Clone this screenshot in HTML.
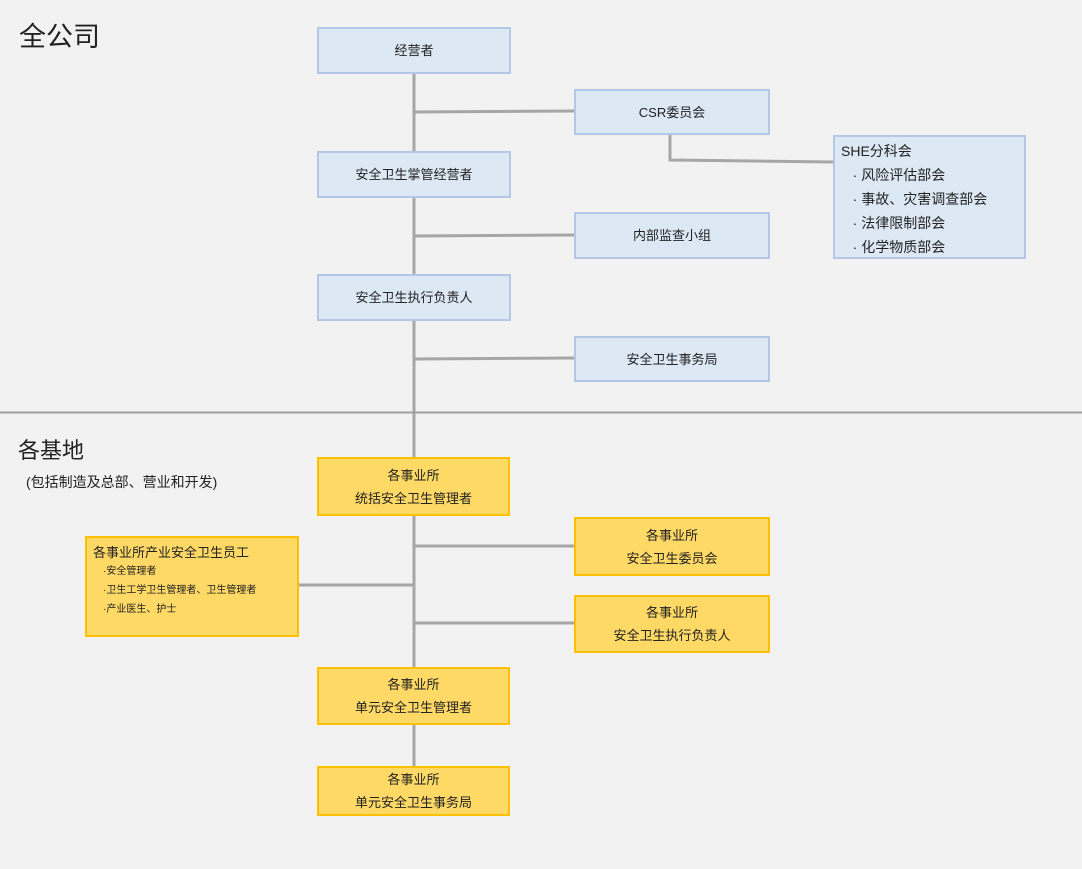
<!DOCTYPE html>
<html><head><meta charset="utf-8"><style>
body{margin:0;width:1082px;height:869px;background:#f2f2f2;position:relative;overflow:hidden;font-family:"Liberation Sans","Noto Sans CJK SC",sans-serif;color:#222}
.b{position:absolute;box-sizing:border-box;background:#dde8f5;border:2px solid #b4c7e7;display:flex;flex-direction:column;align-items:center;justify-content:center;font-size:13px;line-height:23px;text-align:center}
.y{background:#ffd966;border-color:#ffc000}
.t{position:absolute;white-space:nowrap}
svg{position:absolute;left:0;top:0}
</style></head><body>
<svg width="1082" height="869">
<g stroke="#a6a6a6" stroke-width="3" fill="none">
<line x1="414" y1="73" x2="414" y2="766"/>
<line x1="414" y1="112" x2="574" y2="111"/>
<line x1="414" y1="236" x2="574" y2="235"/>
<line x1="414" y1="359" x2="574" y2="358"/>
<line x1="414" y1="546" x2="574" y2="546"/>
<line x1="414" y1="623" x2="574" y2="623"/>
<line x1="298" y1="585" x2="414" y2="585"/>
<polyline points="670,134 670,160 833,162"/>
</g>
<line x1="0" y1="412.5" x2="1082" y2="412.5" stroke="#a0a0a0" stroke-width="2"/>
</svg>
<div class="t" style="left:19px;top:15px;font-size:27px">全公司</div>
<div class="t" style="left:18px;top:433px;font-size:22px">各基地</div>
<div class="t" style="left:26px;top:472px;font-size:14px">(包括制造及总部、营业和开发)</div>
<div class="b" style="left:317px;top:27px;width:194px;height:47px">经营者</div>
<div class="b" style="left:574px;top:89px;width:196px;height:46px">CSR委员会</div>
<div class="b" style="left:317px;top:151px;width:194px;height:47px">安全卫生掌管经营者</div>
<div class="b" style="left:574px;top:212px;width:196px;height:47px">内部监查小组</div>
<div class="b" style="left:317px;top:274px;width:194px;height:47px">安全卫生执行负责人</div>
<div class="b" style="left:574px;top:336px;width:196px;height:46px">安全卫生事务局</div>
<div class="b" style="left:833px;top:135px;width:193px;height:124px;align-items:flex-start;justify-content:flex-start;text-align:left;padding:2px 0 0 6px;line-height:24px;font-size:14px">
<div>SHE分科会</div><div>&nbsp;&nbsp;&nbsp;· 风险评估部会</div><div>&nbsp;&nbsp;&nbsp;· 事故、灾害调查部会</div><div>&nbsp;&nbsp;&nbsp;· 法律限制部会</div><div>&nbsp;&nbsp;&nbsp;· 化学物质部会</div></div>
<div class="b y" style="left:317px;top:457px;width:193px;height:59px"><div>各事业所</div><div>统括安全卫生管理者</div></div>
<div class="b y" style="left:574px;top:517px;width:196px;height:59px"><div>各事业所</div><div>安全卫生委员会</div></div>
<div class="b y" style="left:574px;top:595px;width:196px;height:58px"><div>各事业所</div><div>安全卫生执行负责人</div></div>
<div class="b y" style="left:85px;top:536px;width:214px;height:101px;align-items:flex-start;justify-content:flex-start;text-align:left;padding:5px 0 0 6px;line-height:19px">
<div style="font-size:13px">各事业所产业安全卫生员工</div>
<div style="font-size:10px;padding-left:10px">·安全管理者</div>
<div style="font-size:10px;padding-left:10px">·卫生工学卫生管理者、卫生管理者</div>
<div style="font-size:10px;padding-left:10px">·产业医生、护士</div></div>
<div class="b y" style="left:317px;top:667px;width:193px;height:58px"><div>各事业所</div><div>单元安全卫生管理者</div></div>
<div class="b y" style="left:317px;top:766px;width:193px;height:50px"><div>各事业所</div><div>单元安全卫生事务局</div></div>
</body></html>
